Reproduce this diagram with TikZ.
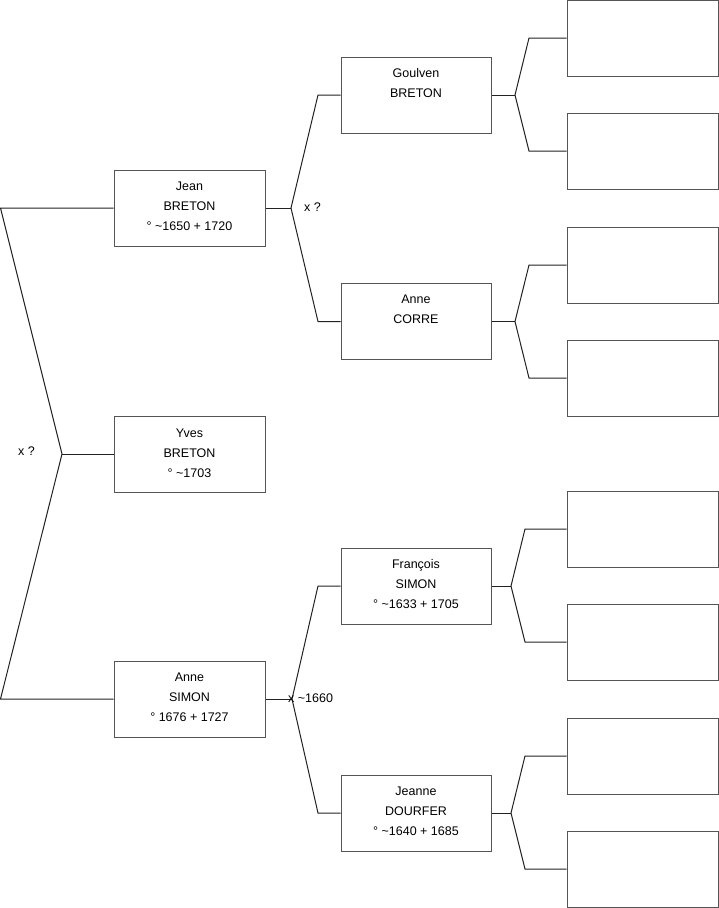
\documentclass[tikz,border=0pt]{standalone}
\usepackage{fontspec}
\setmainfont{Liberation Sans}
\definecolor{boxline}{HTML}{555555}
\definecolor{conn}{HTML}{222222}
\newcommand{\ptab}[1]{\begin{tabular}[t]{@{}c@{}}#1\end{tabular}}
\begin{document}
\begin{tikzpicture}[x=1pt,y=-1pt,
  pbox/.style={draw=boxline,line width=1pt,fill=white,minimum height=76pt,inner sep=0pt},
  g1/.style={pbox,minimum width=151pt},
  g2/.style={pbox,minimum width=150pt},
  g3/.style={pbox,minimum width=151pt},
  ptext/.style={anchor=base,inner sep=0pt,font=\fontsize{12.5}{20}\selectfont},
  lbl/.style={anchor=west,inner sep=0pt,font=\fontsize{12.5}{14}\selectfont},
  cn/.style={draw=conn,line width=1pt}]
\useasboundingbox (0,0) rectangle (719,908);
% generation 1
\node[g1] (jean) at (189.5,208) {};
\node[g1] (yves) at (189.5,454) {};
\node[g1] (anne) at (189.5,699) {};
% generation 2
\node[g2] (goulven) at (416,95) {};
\node[g2] (corre) at (416,321.5) {};
\node[g2] (francois) at (416,586) {};
\node[g2] (jeanne) at (416,813) {};
% generation 3
\node[g3] (e1) at (642.5,38) {};
\node[g3] (e2) at (642.5,151) {};
\node[g3] (e3) at (642.5,265) {};
\node[g3] (e4) at (642.5,378) {};
\node[g3] (e5) at (642.5,529) {};
\node[g3] (e6) at (642.5,642) {};
\node[g3] (e7) at (642.5,756) {};
\node[g3] (e8) at (642.5,869) {};
% texts
\node[ptext] (tjean) at ([yshift=-20.5]jean.north) {\ptab{Jean\\BRETON\\° \textasciitilde1650 + 1720}};
\node[ptext] (tyves) at ([yshift=-21.5]yves.north) {\ptab{Yves\\BRETON\\° \textasciitilde1703}};
\node[ptext] (tanne) at ([yshift=-20.5]anne.north) {\ptab{Anne\\SIMON\\° 1676 + 1727}};
\node[ptext] (tgoulven) at ([yshift=-20.5]goulven.north) {\ptab{Goulven\\BRETON}};
\node[ptext] (tcorre) at ([yshift=-20.5]corre.north) {\ptab{Anne\\CORRE}};
\node[ptext] (tfrancois) at ([yshift=-20.5]francois.north) {\ptab{François\\SIMON\\° \textasciitilde1633 + 1705}};
\node[ptext] (tjeanne) at ([yshift=-20.5]jeanne.north) {\ptab{Jeanne\\DOURFER\\° \textasciitilde1640 + 1685}};
% coordinates
\coordinate (l1) at (0.5,208);
\coordinate (l2) at (62,454);
\coordinate (l3) at (0.5,699);
\coordinate (fj) at (291,208);
\coordinate (fj1) at (318,95);
\coordinate (fj2) at (318,321.5);
\coordinate (fa) at (292,699);
\coordinate (fa1) at (318,586);
\coordinate (fa2) at (318,813);
\coordinate (fg) at (515,95);
\coordinate (fg1) at (529,38);
\coordinate (fg2) at (529,151);
\coordinate (fc) at (515,321.5);
\coordinate (fc1) at (529,265);
\coordinate (fc2) at (529,378);
\coordinate (ff) at (511,586);
\coordinate (ff1) at (525,529);
\coordinate (ff2) at (525,642);
\coordinate (fd) at (511,813);
\coordinate (fd1) at (525,756);
\coordinate (fd2) at (525,869);
% connectors
\draw[cn] (jean.west) -- (l1) -- (l2) -- (l3) -- (anne.west);
\draw[cn] (l2) -- (yves.west);
\draw[cn] (jean.east) -- (fj);
\draw[cn] (goulven.west) -- (fj1) -- (fj) -- (fj2) -- (corre.west);
\draw[cn] (anne.east) -- (fa);
\draw[cn] (francois.west) -- (fa1) -- (fa) -- (fa2) -- (jeanne.west);
\draw[cn] (goulven.east) -- (fg);
\draw[cn] (e1.west) -- (fg1) -- (fg) -- (fg2) -- (e2.west);
\draw[cn] (corre.east) -- (fc);
\draw[cn] (e3.west) -- (fc1) -- (fc) -- (fc2) -- (e4.west);
\draw[cn] (francois.east) -- (ff);
\draw[cn] (e5.west) -- (ff1) -- (ff) -- (ff2) -- (e6.west);
\draw[cn] (jeanne.east) -- (fd);
\draw[cn] (e7.west) -- (fd1) -- (fd) -- (fd2) -- (e8.west);
% labels
\node[lbl] (m0) at (18,451) {x ?};
\node[lbl] (m1) at (304,207) {x ?};
\node[lbl] (m2) at (288,698) {x \textasciitilde1660};
\end{tikzpicture}
\end{document}
